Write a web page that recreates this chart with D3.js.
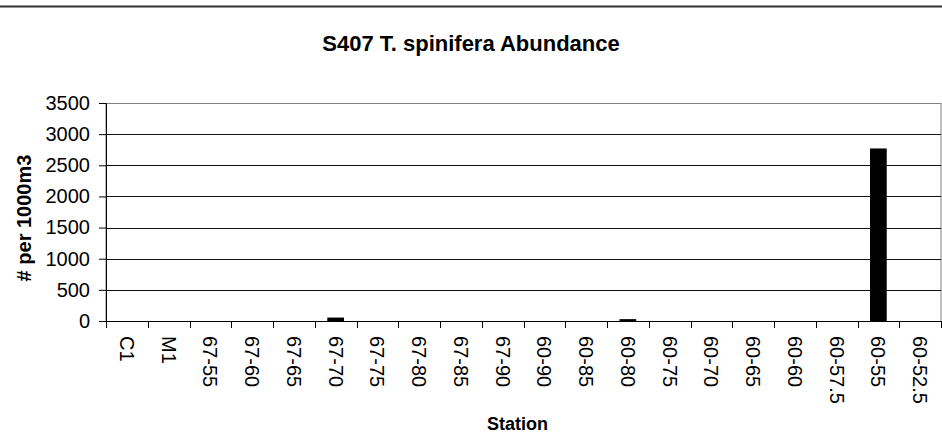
<!DOCTYPE html>
<html>
<head>
<meta charset="utf-8">
<title>S407 T. spinifera Abundance</title>
<script src="https://d3js.org/d3.v7.min.js"></script>
<style>
  body { margin: 0; background: #fff; }
  text { font-family: Arial, "Liberation Sans", sans-serif; fill: #000; }
</style>
</head>
<body>
<svg width="942" height="436"></svg>
<script>
// data
var stations = ["C1", "M1", "67-55", "67-60", "67-65", "67-70", "67-75", "67-80", "67-85", "67-90",
                "60-90", "60-85", "60-80", "60-75", "60-70", "60-65", "60-60", "60-57.5", "60-55", "60-52.5"];
var abundance = [0, 0, 0, 0, 0, 55, 0, 0, 0, 0,
                 0, 0, 30, 0, 0, 0, 0, 0, 2770, 0];
var yTicks = [0, 500, 1000, 1500, 2000, 2500, 3000, 3500];

var svg = d3.select("svg");
var W = 942;
var plot = {left: 106, right: 941, top: 103, bottom: 321};

var x = d3.scaleBand()
    .domain(stations)
    .range([plot.left, plot.right])
    .paddingInner(0.6)
    .paddingOuter(0.3);

var y = d3.scaleLinear()
    .domain([0, 3500])
    .range([plot.bottom, plot.top]);

// outer chart border (only top edge visible)
svg.append("line")
    .attr("x1", 0).attr("x2", W)
    .attr("y1", 6.5).attr("y2", 6.5)
    .attr("stroke", "#333").attr("stroke-width", 2);

// title
svg.append("text")
    .attr("x", 471).attr("y", 51)
    .attr("text-anchor", "middle")
    .style("font-size", "22px").style("font-weight", "bold")
    .text("S407 T. spinifera Abundance");

// plot frame
svg.append("rect")
    .attr("x", plot.left).attr("y", plot.top + 0.5)
    .attr("width", plot.right - plot.left).attr("height", plot.bottom - plot.top)
    .attr("fill", "none").attr("stroke", "#808080");

// gridlines
svg.append("g")
  .selectAll("line")
  .data(yTicks.slice(1, -1))
  .enter().append("line")
    .attr("x1", plot.left).attr("x2", plot.right)
    .attr("y1", function(d) { return Math.round(y(d)) + 0.5; })
    .attr("y2", function(d) { return Math.round(y(d)) + 0.5; })
    .attr("stroke", "#111");

// bars
svg.append("g")
  .selectAll("rect")
  .data(stations)
  .enter().append("rect")
    .attr("x", function(d) { return x(d); })
    .attr("width", x.bandwidth())
    .attr("y", function(d, i) { return y(abundance[i]); })
    .attr("height", function(d, i) { return y(0) - y(abundance[i]); })
    .attr("fill", "#000");

// y axis
var yAxis = svg.append("g")
    .attr("transform", "translate(" + plot.left + ",0)")
    .call(d3.axisLeft(y).tickValues(yTicks).tickFormat(d3.format("d")).tickSize(7).tickPadding(9));
yAxis.select(".domain").attr("stroke", "#000");
yAxis.selectAll("text").style("font-size", "20px").attr("font-family", null);

// x axis: ticks between categories
var xg = svg.append("g");
xg.append("line")
    .attr("x1", plot.left).attr("x2", plot.right)
    .attr("y1", plot.bottom + 0.5).attr("y2", plot.bottom + 0.5)
    .attr("stroke", "#000");
xg.selectAll(".tk")
  .data(d3.range(stations.length + 1))
  .enter().append("line")
    .attr("class", "tk")
    .attr("x1", function(i) { return Math.round(plot.left + i * (plot.right - plot.left) / stations.length) + 0.5; })
    .attr("x2", function(i) { return Math.round(plot.left + i * (plot.right - plot.left) / stations.length) + 0.5; })
    .attr("y1", plot.bottom).attr("y2", plot.bottom + 7)
    .attr("stroke", "#000");
xg.selectAll(".lbl")
  .data(stations)
  .enter().append("text")
    .attr("class", "lbl")
    .attr("transform", function(d) {
      return "translate(" + (x(d) + x.bandwidth() / 2) + "," + (plot.bottom + 15) + ") rotate(90)";
    })
    .attr("dy", "0.35em")
    .style("font-size", "20px")
    .text(function(d) { return d; });

// axis titles
svg.append("text")
    .attr("transform", "translate(31," + 218 + ") rotate(-90)")
    .attr("text-anchor", "middle")
    .style("font-size", "20px").style("font-weight", "bold")
    .text("# per 1000m3");

svg.append("text")
    .attr("x", (plot.left + plot.right) / 2 - 6).attr("y", 430)
    .attr("text-anchor", "middle")
    .style("font-size", "18px").style("font-weight", "bold")
    .text("Station");
</script>
</body>
</html>
